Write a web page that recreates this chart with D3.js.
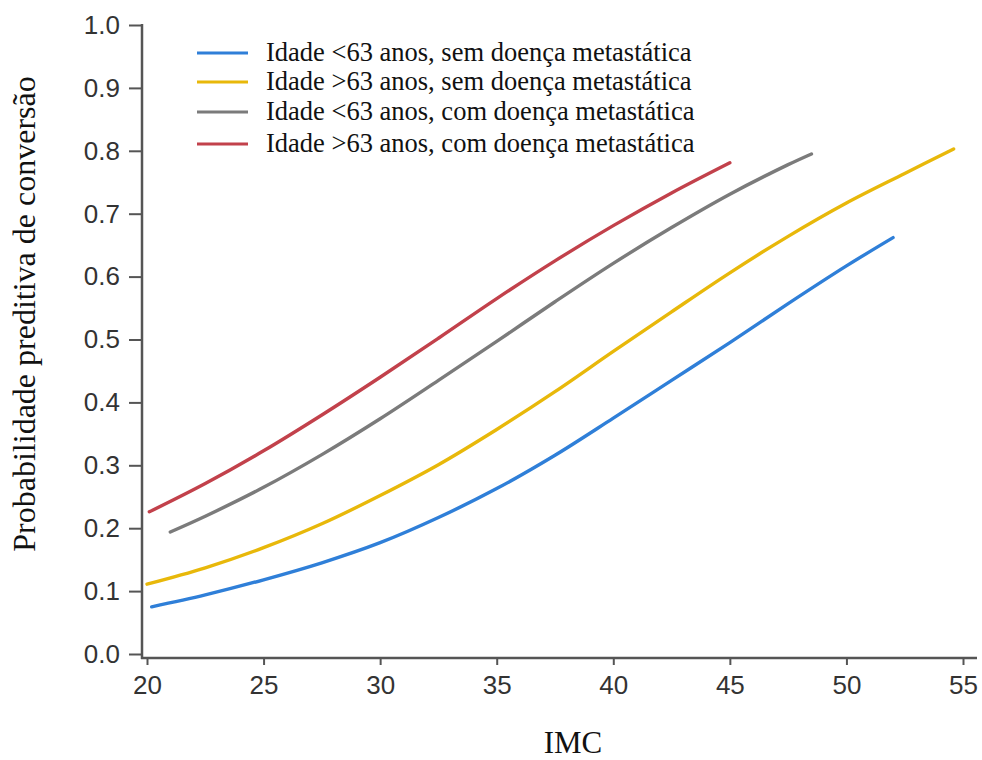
<!DOCTYPE html>
<html>
<head>
<meta charset="utf-8">
<script src="https://cdn.jsdelivr.net/npm/d3@7"></script>
<style>
  body { margin: 0; background: #fff; }
  .tick text { font-family: "Liberation Sans", Arial, sans-serif; font-size: 26px; fill: #333; }
  .title { font-family: "Liberation Serif", "Times New Roman", serif; fill: #111; }
  .legend text { font-family: "Liberation Serif", "Times New Roman", serif; font-size: 26.5px; fill: #111; }
</style>
</head>
<body>
<svg id="chart" width="982" height="760"></svg>
<script>
// values
const seriesNames = [
  "Idade <63 anos, sem doença metastática",
  "Idade >63 anos, sem doença metastática",
  "Idade <63 anos, com doença metastática",
  "Idade >63 anos, com doença metastática"
];
const seriesColors = ["#2f7fd8", "#e8b80a", "#7b7b7b", "#c2414b"];

const blueX = [20.2, 22.5, 25, 27.5, 30, 32.5, 35, 37.5, 40, 42.5, 45, 47.5, 50, 52];
const blueY = [0.075, 0.094, 0.118, 0.145, 0.177, 0.217, 0.263, 0.316, 0.375, 0.435, 0.495, 0.557, 0.617, 0.662];

const yellowX = [20, 22.5, 25, 27.5, 30, 32.5, 35, 37.5, 40, 42.5, 45, 47.5, 50, 52.5, 54.6];
const yellowY = [0.111, 0.137, 0.169, 0.207, 0.252, 0.301, 0.357, 0.417, 0.481, 0.544, 0.606, 0.664, 0.717, 0.764, 0.803];

const grayX = [21, 22.5, 25, 27.5, 30, 32.5, 35, 37.5, 40, 42.5, 45, 47.5, 48.5];
const grayY = [0.194, 0.219, 0.265, 0.317, 0.374, 0.435, 0.497, 0.56, 0.621, 0.678, 0.731, 0.778, 0.795];

const redX = [20.1, 22.5, 25, 27.5, 30, 32.5, 35, 37.5, 40, 42.5, 45];
const redY = [0.226, 0.271, 0.323, 0.38, 0.44, 0.502, 0.565, 0.625, 0.681, 0.733, 0.781];

const xTicks = [20, 25, 30, 35, 40, 45, 50, 55];
const yTicks = [0, 0.1, 0.2, 0.3, 0.4, 0.5, 0.6, 0.7, 0.8, 0.9, 1.0];

const series = [
  { xs: blueX, ys: blueY },
  { xs: yellowX, ys: yellowY },
  { xs: grayX, ys: grayY },
  { xs: redX, ys: redY }
].map((s, i) => ({
  name: seriesNames[i],
  color: seriesColors[i],
  points: s.xs.map((x, j) => [x, s.ys[j]])
}));

const svg = d3.select("#chart");

const x = d3.scaleLinear().domain([20, 55]).range([147, 963]);
const y = d3.scaleLinear().domain([0, 1]).range([654, 25]);

const axisColor = "#555";

// x axis (line runs a bit past the ticks, as in the original)
const gx = svg.append("g").attr("transform", "translate(0,658)");
gx.call(d3.axisBottom(x).tickValues(xTicks).tickSize(7).tickPadding(11).tickFormat(d3.format("d")));
gx.select(".domain").remove();
gx.selectAll(".tick line").attr("stroke", axisColor).attr("stroke-width", 2);
gx.append("line")
  .attr("x1", 141).attr("x2", 977)
  .attr("stroke", axisColor).attr("stroke-width", 2.5);

// y axis
const gy = svg.append("g").attr("transform", "translate(142,0)");
gy.call(d3.axisLeft(y).tickValues(yTicks).tickSize(13).tickPadding(9).tickFormat(d3.format(".1f")));
gy.select(".domain").remove();
gy.selectAll(".tick line").attr("stroke", axisColor).attr("stroke-width", 2);
gy.append("line")
  .attr("y1", 24).attr("y2", 659)
  .attr("stroke", axisColor).attr("stroke-width", 2.5);

// curves
const line = d3.line()
  .x(d => x(d[0]))
  .y(d => y(d[1]))
  .curve(d3.curveCatmullRom);

svg.append("g")
  .selectAll("path")
  .data(series)
  .join("path")
  .attr("d", d => line(d.points))
  .attr("fill", "none")
  .attr("stroke", d => d.color)
  .attr("stroke-width", 3.4)
  .attr("stroke-linecap", "round");

// legend
const legend = svg.append("g").attr("class", "legend");
const rowY = [53, 82, 112, 144];
const rows = legend.selectAll("g")
  .data(series)
  .join("g")
  .attr("transform", (d, i) => `translate(0,${rowY[i]})`);
rows.append("line")
  .attr("x1", 197).attr("x2", 248)
  .attr("stroke", d => d.color)
  .attr("stroke-width", 3);
rows.append("text")
  .attr("x", 266)
  .attr("dy", "0.3em")
  .text(d => d.name);

// axis titles
svg.append("text")
  .attr("class", "title")
  .attr("x", 573).attr("y", 753)
  .attr("text-anchor", "middle")
  .style("font-size", "31px")
  .text("IMC");

svg.append("text")
  .attr("class", "title")
  .attr("transform", "translate(35,314) rotate(-90)")
  .attr("text-anchor", "middle")
  .style("font-size", "32px")
  .text("Probabilidade preditiva de conversão");
</script>
</body>
</html>
